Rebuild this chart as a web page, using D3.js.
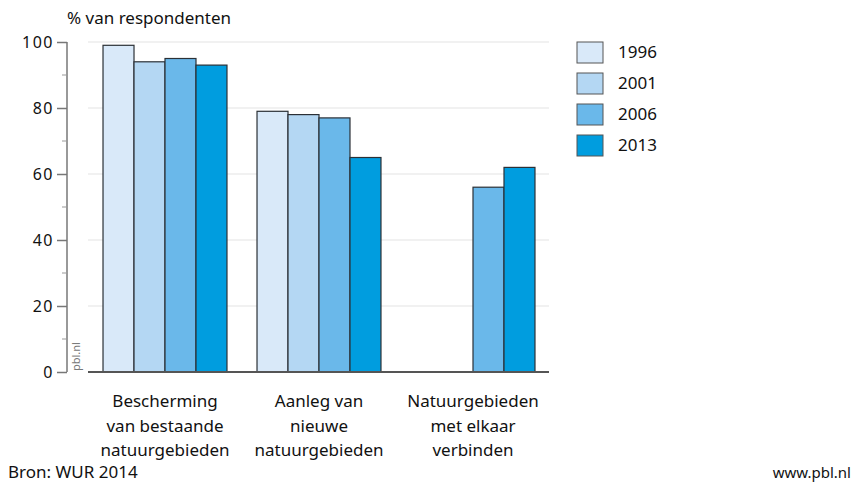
<!DOCTYPE html>
<html>
<head>
<meta charset="utf-8">
<script src="https://cdn.jsdelivr.net/npm/d3@7"></script>
<style>
  body { margin: 0; background: #fff; }
  svg { font-family: "Noto Sans", "Open Sans", sans-serif; }
</style>
</head>
<body>
<div id="vis"></div>
<script>
const categories = [
  ["Bescherming", "van bestaande", "natuurgebieden"],
  ["Aanleg van", "nieuwe", "natuurgebieden"],
  ["Natuurgebieden", "met elkaar", "verbinden"]
];
const years = ["1996", "2001", "2006", "2013"];
const values1996 = [99, 79, null];
const values2001 = [94, 78, null];
const values2006 = [95, 77, 56];
const values2013 = [93, 65, 62];
const yTicks = [0, 20, 40, 60, 80, 100];

const colors = ["#d9e9f9", "#b4d7f3", "#6ab8ea", "#009ddf"];
const series = [values1996, values2001, values2006, values2013];

const width = 853, height = 483;
const SVG = d3.select("#vis").append("svg").attr("width", width).attr("height", height);

const x0 = d3.scaleBand().domain(d3.range(categories.length)).range([88, 550])
  .paddingInner(0.195).paddingOuter(0.0975);
const x1 = d3.scaleBand().domain(years).range([0, x0.bandwidth()]);
const y = d3.scaleLinear().domain([0, 100]).range([372, 42]);

// gridlines
SVG.append("g").selectAll("line")
  .data(yTicks.filter(d => d > 0))
  .enter().append("line")
  .attr("x1", 88).attr("x2", 549)
  .attr("y1", d => y(d)).attr("y2", d => y(d))
  .style("stroke", "#e3e3e3").style("stroke-width", 1.2);

// y axis
const yAxis = d3.axisLeft(y).tickValues(yTicks).tickSize(10).tickPadding(3);
const gy = SVG.append("g").attr("transform", "translate(67,0)").call(yAxis);
gy.select(".domain").attr("d", `M0,${y(100)}V${y(0)}`).style("stroke", "#777").style("stroke-width", 1.5);
gy.selectAll(".tick line").style("stroke", "#777").style("stroke-width", 1.5);
gy.selectAll(".tick text").style("font-size", "16px").style("fill", "#111")
  .style("letter-spacing", "1.5px")
  .style("font-family", "'Noto Sans', sans-serif");
// minor ticks
gy.append("g").selectAll("line")
  .data([10, 30, 50, 70, 90])
  .enter().append("line")
  .attr("x1", -5).attr("x2", 0)
  .attr("y1", d => y(d)).attr("y2", d => y(d))
  .style("stroke", "#999").style("stroke-width", 1);

SVG.append("text").attr("x", 67).attr("y", 24)
  .text("% van respondenten").style("font-size", "17px").style("fill", "#111");

// bars
const groups = SVG.append("g").selectAll("g")
  .data(categories)
  .enter().append("g")
  .attr("transform", (d, i) => `translate(${x0(i)},0)`);

groups.selectAll("rect")
  .data((d, i) => years.map((yr, j) => ({ yr, j, v: series[j][i] })).filter(e => e.v != null))
  .enter().append("rect")
  .attr("x", d => x1(d.yr))
  .attr("width", x1.bandwidth())
  .attr("y", d => y(d.v))
  .attr("height", d => y(0) - y(d.v))
  .style("fill", d => colors[d.j])
  .style("stroke", "#2b3036").style("stroke-width", 1.2);

// baseline
SVG.append("line").attr("x1", 88).attr("x2", 549).attr("y1", y(0)).attr("y2", y(0))
  .style("stroke", "#555").style("stroke-width", 1.8);

// category labels
groups.append("text")
  .attr("x", x0.bandwidth() / 2)
  .attr("text-anchor", "middle")
  .style("font-size", "17px").style("fill", "#111")
  .selectAll("tspan")
  .data(d => d)
  .enter().append("tspan")
  .attr("x", x0.bandwidth() / 2)
  .attr("y", (d, i) => 407 + i * 24.5)
  .text(d => d);

// pbl.nl
SVG.append("text").attr("transform", "translate(80,371) rotate(-90)")
  .text("pbl.nl").style("font-size", "11px").style("fill", "#777");

// legend
const legend = SVG.append("g").selectAll("g")
  .data(years)
  .enter().append("g")
  .attr("transform", (d, i) => `translate(577,${42 + i * 31})`);
legend.append("rect").attr("width", 26).attr("height", 21)
  .style("fill", (d, i) => colors[i]).style("stroke", "#555").style("stroke-width", 1);
legend.append("text").attr("x", 41).attr("y", 16).text(d => d)
  .style("font-size", "17px").style("fill", "#111");

SVG.append("text").attr("x", 8).attr("y", 478).text("Bron: WUR 2014")
  .style("font-size", "17px").style("fill", "#111");
SVG.append("text").attr("x", 851).attr("y", 478).attr("text-anchor", "end").text("www.pbl.nl")
  .style("font-size", "15px").style("fill", "#111");
</script>
</body>
</html>
